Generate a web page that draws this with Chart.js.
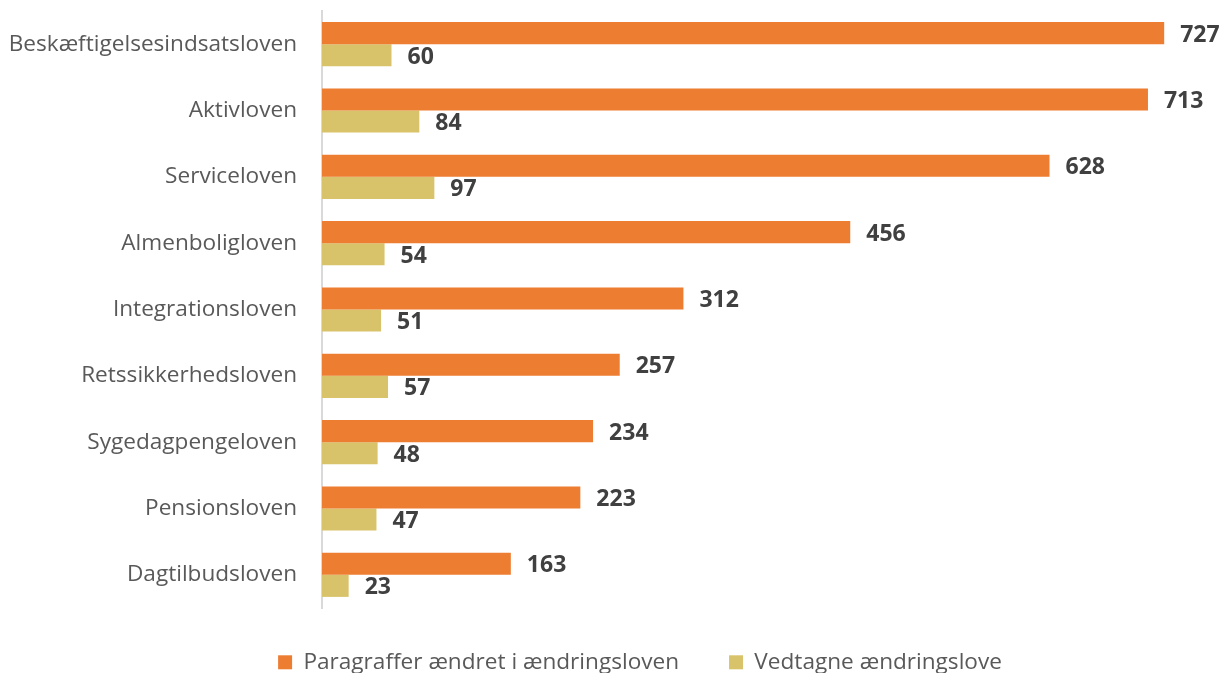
<!DOCTYPE html>
<html>
<head>
<meta charset="utf-8">
<script src="https://cdn.jsdelivr.net/npm/chart.js@4"></script>
<style>
  html, body { margin: 0; padding: 0; background: #fff; }
  #wrap { width: 1223px; height: 673px; position: relative; }
</style>
</head>
<body>
<div id="wrap"><canvas id="c" width="1223" height="673"></canvas></div>
<script>
const categories = ["Beskæftigelsesindsatsloven", "Aktivloven", "Serviceloven", "Almenboligloven", "Integrationsloven", "Retssikkerhedsloven", "Sygedagpengeloven", "Pensionsloven", "Dagtilbudsloven"];
const seriesNames = ["Paragraffer ændret i ændringsloven", "Vedtagne ændringslove"];
const paragraffer = [727, 713, 628, 456, 312, 257, 234, 223, 163];
const vedtagne = [60, 84, 97, 54, 51, 57, 48, 47, 23];

const FONT = "'Open Sans', 'Noto Sans', sans-serif";
const LEGEND_PAD = 50;

const valueLabels = {
  id: 'valueLabels',
  afterDatasetsDraw(chart) {
    const ctx = chart.ctx;
    ctx.save();
    ctx.font = "bold 23px " + FONT;
    ctx.fillStyle = '#404040';
    ctx.textAlign = 'left';
    ctx.textBaseline = 'middle';
    chart.data.datasets.forEach((ds, di) => {
      const meta = chart.getDatasetMeta(di);
      meta.data.forEach((el, i) => {
        ctx.fillText(String(ds.data[i]), el.x + 16, el.y + 2);
      });
    });
    ctx.restore();
  }
};

const legendPlacer = {
  id: 'legendPlacer',
  beforeLayout(chart) {
    const lg = chart.legend;
    if (lg && !lg._patched) {
      const orig = lg.fit;
      lg.fit = function () { orig.call(this); this.height = 65; };
      lg._patched = true;
    }
  },
  afterLayout(chart) {
    const lg = chart.legend;
    if (!lg) return;
    const top = 662 - LEGEND_PAD - 11;
    lg.top = top;
    lg.bottom = 720;
    lg.height = lg.bottom - lg.top;
    lg.left += 33;
    lg.right += 33;
  }
};

new Chart(document.getElementById('c'), {
  type: 'bar',
  data: {
    labels: categories,
    datasets: [
      { label: seriesNames[0], data: paragraffer, backgroundColor: '#ED7D31', categoryPercentage: 0.665, barPercentage: 1.0 },
      { label: seriesNames[1], data: vedtagne, backgroundColor: '#D8C36A', categoryPercentage: 0.665, barPercentage: 1.0 }
    ]
  },
  options: {
    indexAxis: 'y',
    responsive: false,
    animation: false,
    layout: { padding: { top: 11, right: 9, left: 0, bottom: 0 } },
    scales: {
      x: {
        display: false,
        min: 0,
        max: 770
      },
      y: {
        grid: { display: false },
        border: { display: true, color: '#D9D9D9', width: 2 },
        ticks: { color: '#595959', font: { family: FONT, size: 22.6 }, padding: 17 },
        afterFit(scale) { scale.width = 322; scale.paddingTop = 0; scale.paddingBottom = 0; }
      }
    },
    plugins: {
      tooltip: { enabled: false },
      legend: {
        position: 'bottom',
        labels: {
          color: '#595959',
          font: { family: FONT, size: 22.6 },
          boxWidth: 14,
          boxHeight: 14,
          padding: LEGEND_PAD
        }
      }
    }
  },
  plugins: [legendPlacer, valueLabels]
});
</script>
</body>
</html>
